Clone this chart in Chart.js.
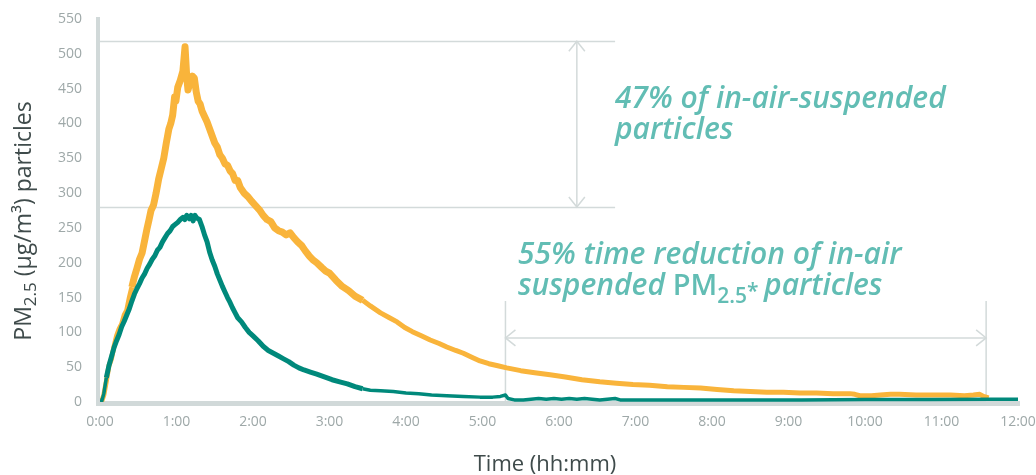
<!DOCTYPE html>
<html>
<head>
<meta charset="utf-8">
<script src="https://cdn.jsdelivr.net/npm/chart.js@4"></script>
<style>
  html, body { margin: 0; padding: 0; background: #fff; }
  #wrap { width: 1036px; height: 475px; position: relative; }
</style>
</head>
<body>
<div id="wrap"><canvas id="chart" width="1036" height="475"></canvas></div>
<script>
/* global Chart */

// time in minutes since start, PM2.5 in µg/m³
const xTickLabels = ["0:00", "1:00", "2:00", "3:00", "4:00", "5:00", "6:00",
  "7:00", "8:00", "9:00", "10:00", "11:00", "12:00"];

const orangeMin = [0, 1.5, 3, 5, 7, 9, 11, 13, 15, 17, 19, 21, 23, 25, 27, 29, 31, 33, 35, 37,
  38.5, 40, 42, 44, 46, 48, 50, 52, 54, 55.5, 57, 58.5, 59.5, 61, 63, 65, 66.7, 68, 69, 71,
  72.5, 74, 75.5, 77, 78.5, 80, 82, 84, 86, 88, 90, 92, 94, 96, 98, 100, 102, 104, 106, 108,
  110, 113, 116, 119, 122, 125, 128, 131, 134, 137, 140, 143, 146, 149, 152, 155, 158, 161,
  164, 167, 170, 174, 177, 180, 185, 190, 195, 200, 206, 212, 220, 227, 233, 239, 245, 252,
  259, 266, 272, 279, 285, 292, 298, 305, 312, 319, 330, 341, 353, 365, 378, 392, 405, 418,
  431, 445, 458, 471, 484, 497, 510, 523, 536, 549, 562, 575, 588, 592, 596, 605, 612, 620,
  627, 640, 655, 667, 678, 685, 690, 693, 697];
const orangeVal = [3, 2, 10, 30, 52, 62, 80, 95, 105, 112, 125, 132, 150, 165, 180, 192, 205, 214, 232, 250,
  262, 275, 283, 300, 320, 335, 350, 372, 392, 400, 412, 438, 432, 452, 462, 475, 510, 468, 448, 462,
  468, 465, 445, 432, 428, 418, 410, 402, 392, 382, 372, 366, 355, 350, 342, 340, 332, 328, 318, 318,
  308, 300, 295, 288, 282, 276, 268, 262, 259, 250, 246, 244, 240, 243, 236, 230, 225, 217,
  210, 204, 200, 193, 188, 185, 175, 166, 160, 152, 146, 138, 128, 121, 115, 107, 101, 95,
  89, 84, 79, 74, 70, 64, 59, 55, 52, 49, 45, 42, 39, 36, 32, 29, 27, 25,
  24, 22, 21, 20, 18, 16, 15, 14, 14, 13, 13, 12, 12, 11, 9, 9, 10, 11,
  11, 10, 10, 10, 9, 10, 11, 8, 6];

const tealMin = [0, 1.5, 3, 5, 7, 9, 11, 13, 15, 17, 19, 21, 23, 25, 27, 29, 31, 33, 35, 37, 39, 41,
  43, 45, 47, 49, 51, 53, 55, 57, 59, 61, 63, 65, 66.5, 68, 70, 71.5, 73, 74.5, 76, 78, 80, 82,
  84, 86, 88, 90, 92, 94, 96, 98, 100, 102, 104, 106, 108, 111, 114, 117, 120, 124, 128, 132,
  136, 140, 144, 148, 152, 156, 160, 165, 170, 176, 182, 188, 194, 200, 206, 212, 220, 230,
  240, 250, 260, 272, 285, 298, 308, 314, 318, 320, 325, 332, 338, 344, 350, 356, 362, 368,
  374, 380, 386, 392, 398, 404, 408, 450, 500, 550, 600, 650, 700, 720];
const tealVal = [3, 2, 12, 35, 52, 65, 78, 88, 97, 108, 116, 125, 134, 145, 155, 163, 170, 178, 184, 192, 198, 205,
  210, 218, 222, 230, 236, 242, 246, 252, 255, 258, 262, 265, 262, 268, 263, 268, 260, 268, 264, 262, 252, 240,
  230, 215, 204, 195, 184, 175, 166, 158, 150, 143, 135, 128, 121, 115, 107, 100, 95, 88, 80, 74,
  70, 66, 62, 58, 53, 49, 46, 43, 40, 36, 32, 29, 26, 22, 19, 17, 16, 15,
  13, 12, 10, 9, 8, 7, 7, 8, 10, 5, 3, 3, 4, 5, 4, 5, 4, 5,
  4, 5, 4, 3, 4, 5, 3, 3, 3, 3, 3.5, 3.5, 4, 4];

// annotation geometry in data units
const refLevels = [518, 280];
const refLineEndMin = 404;
const peakArrowMin = 374;
const spanArrow = { from: 318, to: 695, level: 92, tickTop: 145 };

const ORANGE = "#f9b43b";
const TEAL = "#00897b";
const GUIDE = "#d3dada";
const NOTE = "#62bdb4";
const TITLE = "#3f4b4b";

const toPoints = (xs, ys) => xs.map((m, i) => ({ x: m, y: ys[i] }));

function chevron(ctx, x, y, dir) {
  // open arrow head pointing in dir: "up" | "down" | "left" | "right"
  const L = 10, W = 8;
  ctx.beginPath();
  if (dir === "up") { ctx.moveTo(x - W, y + L); ctx.lineTo(x, y); ctx.lineTo(x + W, y + L); }
  if (dir === "down") { ctx.moveTo(x - W, y - L); ctx.lineTo(x, y); ctx.lineTo(x + W, y - L); }
  if (dir === "left") { ctx.moveTo(x + L, y - W); ctx.lineTo(x, y); ctx.lineTo(x + L, y + W); }
  if (dir === "right") { ctx.moveTo(x - L, y - W); ctx.lineTo(x, y); ctx.lineTo(x - L, y + W); }
  ctx.stroke();
}

function drawRuns(ctx, x, y, runs) {
  let cx = x;
  for (const r of runs) {
    ctx.font = r.font;
    ctx.fillText(r.text, cx, y + (r.dy || 0));
    cx += ctx.measureText(r.text).width;
  }
  return cx - x;
}

const guidesPlugin = {
  id: "guides",
  beforeDatasetsDraw(chart) {
    const { ctx, scales: { x, y } } = chart;
    ctx.save();
    ctx.strokeStyle = GUIDE;
    ctx.lineWidth = 1.5;
    const x0 = x.getPixelForValue(0);
    const xr = x.getPixelForValue(refLineEndMin);
    for (const lv of refLevels) {
      const py = Math.round(y.getPixelForValue(lv)) + 0.5;
      ctx.beginPath(); ctx.moveTo(x0, py); ctx.lineTo(xr, py); ctx.stroke();
    }
    // vertical double arrow between the two levels
    const ax = x.getPixelForValue(peakArrowMin);
    const yTop = y.getPixelForValue(refLevels[0]);
    const yBot = y.getPixelForValue(refLevels[1]);
    ctx.beginPath(); ctx.moveTo(ax, yTop); ctx.lineTo(ax, yBot); ctx.stroke();
    chevron(ctx, ax, yTop, "up");
    chevron(ctx, ax, yBot, "down");

    // horizontal double arrow with end ticks
    const sx0 = x.getPixelForValue(spanArrow.from);
    const sx1 = x.getPixelForValue(spanArrow.to);
    const sy = y.getPixelForValue(spanArrow.level);
    const tTop = y.getPixelForValue(spanArrow.tickTop);
    const tBot = y.getPixelForValue(0);
    ctx.beginPath();
    ctx.moveTo(sx0, tTop); ctx.lineTo(sx0, tBot);
    ctx.moveTo(sx1, tTop); ctx.lineTo(sx1, tBot);
    ctx.moveTo(sx0, sy); ctx.lineTo(sx1, sy);
    ctx.stroke();
    chevron(ctx, sx0, sy, "left");
    chevron(ctx, sx1, sy, "right");

    // axis lines
    const area = chart.chartArea;
    ctx.fillStyle = "#d1d9d9";
    ctx.fillRect(area.left - 4, area.top - 2, 4, area.bottom - area.top + 6);
    ctx.fillRect(area.left - 4, area.bottom - 1, area.right - area.left + 6, 5);
    ctx.restore();
  },
  afterDraw(chart) {
    const { ctx } = chart;
    ctx.save();
    ctx.fillStyle = TITLE;
    ctx.textBaseline = "alphabetic";
    // x axis title
    ctx.font = "22px 'Open Sans'";
    ctx.textAlign = "center";
    ctx.fillText("Time (hh:mm)", 545, 471);
    // y axis title, rotated, with subscript
    ctx.textAlign = "left";
    const yRuns = [
      { text: "PM", font: "23px 'Open Sans'" },
      { text: "2.5", font: "17px 'Open Sans'", dy: 5 },
      { text: " (\u00b5g/m\u00b3) particles", font: "23px 'Open Sans'" },
    ];
    let w = 0;
    for (const r of yRuns) { ctx.font = r.font; w += ctx.measureText(r.text).width; }
    ctx.translate(31, 221);
    ctx.rotate(-Math.PI / 2);
    drawRuns(ctx, -w / 2, 0, yRuns);
    ctx.restore();

    // callout texts
    ctx.save();
    ctx.fillStyle = NOTE;
    ctx.textAlign = "left";
    const big = "italic 600 30px 'Open Sans'";
    const upright = "600 29px 'Open Sans'";
    const small = "600 21px 'Open Sans'";
    ctx.font = big;
    ctx.fillText("47% of in-air-suspended", 615, 108);
    ctx.fillText("particles", 615, 139);
    ctx.fillText("55% time reduction of in-air", 518, 264);
    drawRuns(ctx, 518, 295, [
      { text: "suspended ", font: big },
      { text: "PM", font: upright },
      { text: "2.5", font: small, dy: 8 },
      { text: "* ", font: small, dy: 3 },
      { text: "particles", font: big },
    ]);
    ctx.restore();
  },
};

const tickFont = { family: "'Open Sans'", size: 14 };

new Chart(document.getElementById("chart"), {
  type: "line",
  data: {
    datasets: [
      {
        label: "Teal",
        data: toPoints(tealMin, tealVal),
        borderColor: TEAL,
        borderJoinStyle: "round",
        pointRadius: 0,
        tension: 0,
        segment: { borderWidth: (c) => (c.p0.parsed.y > 20 ? 5 : 3.5) },
      },
      {
        label: "Orange",
        data: toPoints(orangeMin, orangeVal),
        borderColor: ORANGE,
        borderJoinStyle: "round",
        pointRadius: 0,
        tension: 0,
        segment: { borderWidth: (c) => (c.p0.parsed.y > 150 ? 7 : 5) },
      },
    ],
  },
  options: {
    responsive: false,
    animation: false,
    devicePixelRatio: 1,
    layout: { padding: { left: 0, right: 18, top: 19, bottom: 0 } },
    plugins: { legend: { display: false }, tooltip: { enabled: false } },
    scales: {
      x: {
        type: "linear",
        min: 0,
        max: 720,
        afterFit: (s) => {
          s.height = 73;
          s.paddingLeft = 0;
          s.paddingRight = 0;
        },
        afterBuildTicks: (s) => { s.ticks = xTickLabels.map((_, i) => ({ value: i * 60 })); },
        ticks: {
          callback: (v) => xTickLabels[Math.round(v / 60)],
          color: "#9ea8a8",
          font: tickFont,
          padding: 12,
          maxRotation: 0,
          autoSkip: false,
        },
        grid: { display: false, drawTicks: false },
        border: { display: false },
      },
      y: {
        min: 0,
        max: 550,
        afterFit: (s) => {
          s.width = 100;
          s.paddingTop = 0;
          s.paddingBottom = 0;
        },
        ticks: { stepSize: 50, color: "#9ea8a8", font: tickFont, padding: 18, autoSkip: false },
        grid: { display: false, drawTicks: false },
        border: { display: false },
      },
    },
  },
  plugins: [guidesPlugin],
});
</script>
</body>
</html>
